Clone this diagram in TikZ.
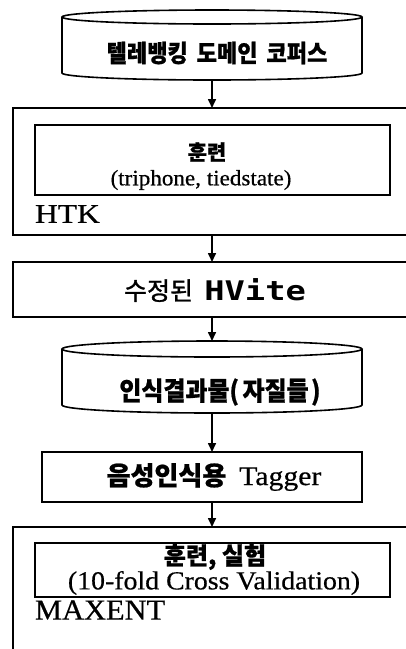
\documentclass[tikz,border=0pt]{standalone}
\usepackage{fontspec}
\setmainfont{Liberation Serif}[FakeBold=0.5]
\newfontfamily\kr[BoldFeatures={FakeBold=0.8}]{Noto Sans CJK KR}
\newfontfamily\mono{DejaVu Sans Mono}
\usetikzlibrary{arrows.meta}
\newcommand{\fs}[1]{\fontsize{#1}{#1}\selectfont}
\begin{document}
\begin{tikzpicture}[x=1pt,y=-1pt,
  box/.style={draw, line width=1.6pt, anchor=north west, inner sep=0pt, outer sep=0pt},
  area/.style={inner sep=0pt, outer sep=0pt, anchor=north west},
  lbl/.style={inner sep=0pt, outer sep=0pt},
  arr/.style={line width=1.6pt, -{Triangle[width=8pt,length=9pt]}},
  cyl/.style={line width=1.6pt}]
\useasboundingbox (0,0) rectangle (406,649);
\clip (0,0) rectangle (406,649);
\fill[white] (0,0) rectangle (406,649);

% cylinder 1
\node[area, minimum width=300pt, minimum height=70pt] (c1) at (62,10) {};
\draw[cyl] ([yshift=-7pt]c1.north) ellipse (150pt and 7pt);
\draw[cyl] ([yshift=-7pt]c1.north west) -- ([yshift=7pt]c1.south west)
  arc (180:360:150pt and 7pt) -- ([yshift=-7pt]c1.north east);
\node[lbl] (t1) at (217,53) {\scalebox{0.92}[1]{\kr\bfseries\fs{24}텔레뱅킹\hspace{0.4em}도메인\hspace{0.4em}코퍼스}};

% HTK
\node[box, minimum width=407pt, minimum height=127pt] (htk) at (13,108) {};
\node[box, minimum width=355pt, minimum height=70pt] (htkin) at (35,125) {};
\node[lbl] (t2) at (207,152) {\kr\bfseries\fs{21}훈련};
\node[lbl] (t3) at (201,180) {\scalebox{1.05}[1]{\fs{22}(triphone, tiedstate)}};
\node[lbl, anchor=west] (t4) at (35,214) {\scalebox{1.17}[1]{\fs{27}HTK}};

% HVite
\node[box, minimum width=407pt, minimum height=55pt] (hv) at (13,262) {};
\node[lbl] (t5) at (215,290) {\kr\addfontfeature{FakeBold=1.2}\fs{25}수정된\hspace{0.45em}\scalebox{1.25}[1]{\mono\bfseries\fs{27}HVite}};

% cylinder 2
\node[area, minimum width=300pt, minimum height=72pt] (c2) at (62,341) {};
\draw[cyl] ([yshift=-8pt]c2.north) ellipse (150pt and 8pt);
\draw[cyl] ([yshift=-8pt]c2.north west) -- ([yshift=8pt]c2.south west)
  arc (180:360:150pt and 8pt) -- ([yshift=-8pt]c2.north east);
\node[lbl] (t6) at (220,392) {\scalebox{0.92}[1]{\kr\bfseries\fs{26}인식결과물(\hspace{0.15em}자질들\hspace{0.1em})}};

% Tagger
\node[box, minimum width=320pt, minimum height=50pt] (tg) at (42,452) {};
\node[lbl] (t7) at (214,477) {\kr\bfseries\fs{26}음성인식용\hspace{0.5em}\scalebox{1.1}[1]{\rmfamily\mdseries\fs{27}Tagger}};

% MAXENT
\node[box, minimum width=407pt, minimum height=140pt] (mx) at (13,527) {};
\node[box, minimum width=355pt, minimum height=54pt] (mxin) at (35,543) {};
\node[lbl] (t8) at (215,557) {\kr\bfseries\fs{24}훈련, 실험};
\node[lbl] (t9) at (214,583) {\scalebox{1.07}[1]{\fs{26}(10-fold Cross Validation)}};
\node[lbl, anchor=west] (t10) at (35,610) {\scalebox{1.05}[1]{\fs{29}MAXENT}};

% arrows
\draw[arr] (c1.south) -- (htk.north -| c1.south);
\draw[arr] (htk.south -| c1.south) -- (hv.north -| c1.south);
\draw[arr] (hv.south -| c1.south) -- (c2.north);
\draw[arr] (c2.south) -- (tg.north -| c2.south);
\draw[arr] (tg.south -| c2.south) -- (mx.north -| c2.south);
\end{tikzpicture}
\end{document}
